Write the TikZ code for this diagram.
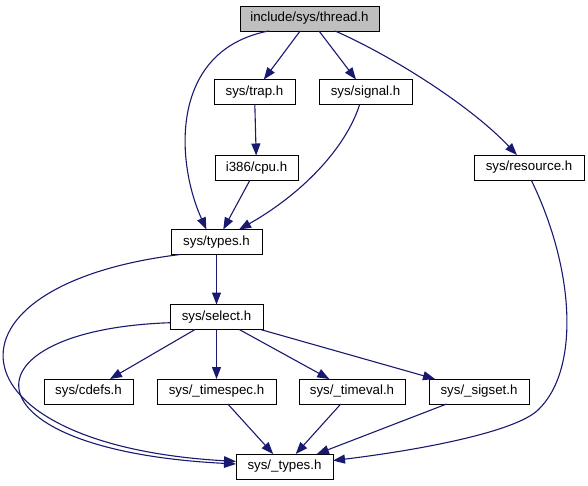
\documentclass[tikz,border=0pt]{standalone}
\usepackage{fontspec}
\setmainfont{Liberation Sans}
\usepackage{xcolor}
\definecolor{edge}{HTML}{191970}
\definecolor{rootfill}{HTML}{BFBFBF}
\usetikzlibrary{arrows.meta}

\begin{document}
\begin{tikzpicture}[x=1pt, y=-1pt, >={Triangle[length=12pt,width=9pt]},
    font=\fontsize{13.3}{15}\selectfont,
    file/.style={draw=black, line width=1pt, fill=white,
                 minimum height=25pt, inner sep=0pt, outer sep=0pt},
    dep/.style={->, edge, line width=1.1pt}]
  \useasboundingbox (0,0) rectangle (588,485);

  % files
  \node[file, fill=rootfill, minimum width=139pt] (thread) at (309.5,18.5) {include/sys/thread.h};
  \node[file, minimum width=81pt] (trap) at (254.5,92) {sys/trap.h};
  \node[file, minimum width=93pt] (signal) at (365.5,92) {sys/signal.h};
  \node[file, minimum width=83pt] (cpu) at (256.5,168) {i386/cpu.h};
  \node[file, minimum width=110pt] (resource) at (529,167.5) {sys/resource.h};
  \node[file, minimum width=91pt] (types) at (216.5,242) {sys/types.h};
  \node[file, minimum width=93pt] (select) at (216.5,317) {sys/select.h};
  \node[file, minimum width=89pt] (cdefs) at (88.5,391.5) {sys/cdefs.h};
  \node[file, minimum width=119pt] (timespec) at (216.5,391.5) {sys/\_timespec.h};
  \node[file, minimum width=106pt] (timeval) at (352,391.5) {sys/\_timeval.h};
  \node[file, minimum width=100pt] (sigset) at (479,391.5) {sys/\_sigset.h};
  \node[file, minimum width=97pt] (utypes) at (284.5,466.5) {sys/\_types.h};

  % includes
  \draw[dep] (thread) -- (trap);
  \draw[dep] (thread) -- (signal);
  \draw[dep] (thread.197) .. controls (170,50) and (175,160) .. (types.129);
  \draw[dep] (thread.-26) .. controls (390,55) and (470,105) .. (resource.134);
  \draw[dep] (trap) -- (cpu);
  \draw[dep] (signal.245) .. controls (345,150) and (300,195) .. (types.29);
  \draw[dep] (cpu) -- (types);
  \draw[dep] (types) -- (select);
  \draw[dep] (types.199) .. controls (-70,285) and (-55,445) .. (utypes.174);
  \draw[dep] (select.187) .. controls (-40,330) and (-40,450) .. (utypes.177);
  \draw[dep] (select) -- (cdefs);
  \draw[dep] (select) -- (timespec);
  \draw[dep] (select) -- (timeval);
  \draw[dep] (select) -- (sigset);
  \draw[dep] (timespec) -- (utypes);
  \draw[dep] (timeval) -- (utypes);
  \draw[dep] (sigset) -- (utypes);
  \draw[dep] (resource.-80) .. controls (575,270) and (580,370) .. (538,410)
                            .. controls (515,432) and (420,450) .. (utypes.7);
\end{tikzpicture}
\end{document}
